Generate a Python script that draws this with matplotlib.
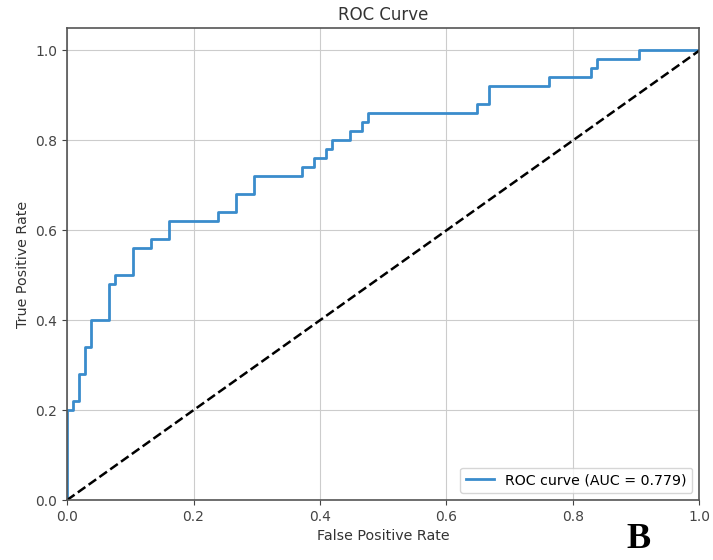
import matplotlib
matplotlib.use('Agg')
import matplotlib.pyplot as plt
import numpy as np

# step points
fpr = [0.0, 0.0, 0.0095, 0.0095, 0.019, 0.019, 0.0286, 0.0286, 0.038, 0.038,
       0.0667, 0.0667, 0.076, 0.076, 0.1048, 0.1048, 0.133, 0.133, 0.162, 0.162,
       0.238, 0.238, 0.267, 0.267, 0.295, 0.295, 0.371, 0.371, 0.390, 0.390,
       0.410, 0.410, 0.419, 0.419, 0.448, 0.448, 0.467, 0.467, 0.476, 0.476,
       0.648, 0.648, 0.667, 0.667, 0.762, 0.762, 0.829, 0.829, 0.838, 0.838,
       0.905, 0.905, 1.0]
tpr = [0.0, 0.20, 0.20, 0.22, 0.22, 0.28, 0.28, 0.34, 0.34, 0.40,
       0.40, 0.48, 0.48, 0.50, 0.50, 0.56, 0.56, 0.58, 0.58, 0.62,
       0.62, 0.64, 0.64, 0.68, 0.68, 0.72, 0.72, 0.74, 0.74, 0.76,
       0.76, 0.78, 0.78, 0.80, 0.80, 0.82, 0.82, 0.84, 0.84, 0.86,
       0.86, 0.88, 0.88, 0.92, 0.92, 0.94, 0.94, 0.96, 0.96, 0.98,
       0.98, 1.0, 1.0]
roc_label = 'ROC curve (AUC = 0.779)'

fig = plt.figure(figsize=(7.13, 5.6), dpi=100)
ax = fig.add_axes([0.094, 0.107, 0.887, 0.843])
ax.plot(fpr, tpr, color='#3a8ccc', lw=2, label=roc_label)
ax.plot([0, 1], [0, 1], 'k--', lw=1.8)
ax.set_xlim([0.0, 1.0])
ax.set_ylim([0.0, 1.05])
ax.set_xlabel('False Positive Rate', fontsize=10.3, color='#333333')
ax.set_ylabel('True Positive Rate', fontsize=10.3, color='#333333')
ax.set_title('ROC Curve', fontsize=12, color='#333333')
ax.tick_params(labelsize=10, colors='#444444')
ax.grid(True, color='#cccccc')
ax.legend(loc='lower right', fontsize=10.2)
for s in ax.spines.values():
    s.set_color('#555555')
    s.set_linewidth(1.2)

fig.text(0.878, 0.022, 'B', fontsize=26, fontweight='bold', family='Liberation Serif')

fig.savefig('out.png', dpi=100)
